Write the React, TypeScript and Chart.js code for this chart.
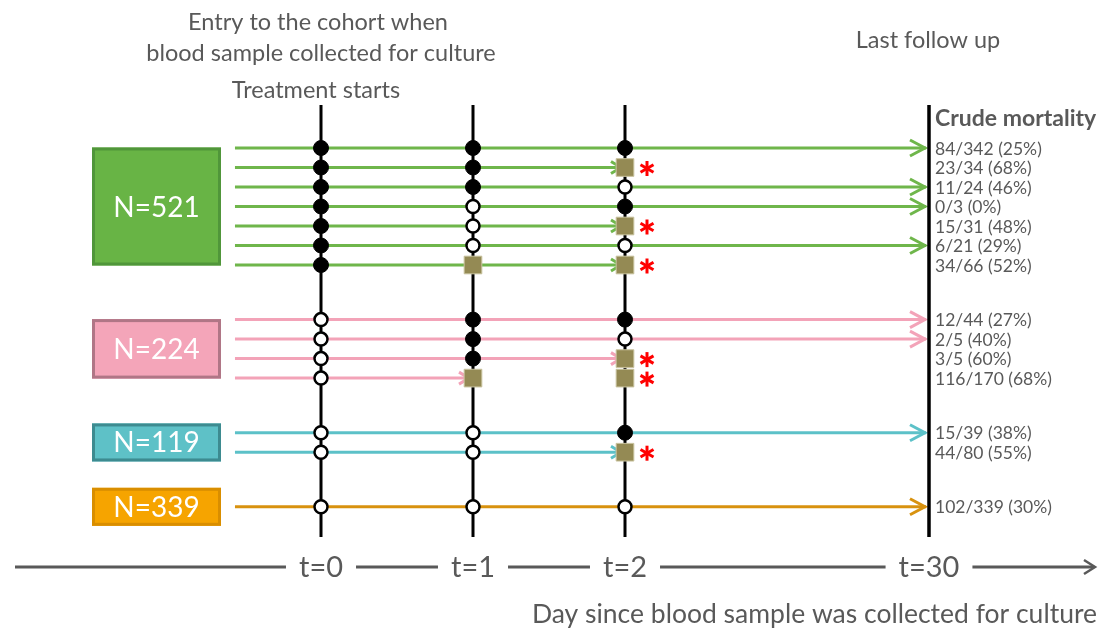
import React, { useEffect, useRef } from "react";
import { Chart, registerables } from "chart.js";

Chart.register(...registerables);

// ---- data ----
const timeLabels = ["t=0", "t=1", "t=2", "t=30"];
const timeSlots = [0, 1, 2, 4]; // layout slot of each time point (day 0, 1, 2, 30)
const groupLabels = ["N=521", "N=224", "N=119", "N=339"];
const rowGroup = [0, 0, 0, 0, 0, 0, 0, 1, 1, 1, 1, 2, 2, 3];
// B = filled circle, W = open circle, S = square
const statusT0 = ["B", "B", "B", "B", "B", "B", "B", "W", "W", "W", "W", "W", "W", "W"];
const statusT1 = ["B", "B", "B", "W", "W", "W", "S", "B", "B", "B", "S", "W", "W", "W"];
const statusT2 = ["B", "S", "W", "B", "S", "W", "S", "B", "W", "S", "S", "B", "S", "W"];
const lineEndTime = [3, 2, 3, 3, 2, 3, 2, 3, 3, 2, 1, 3, 2, 3];
const mortalityLabels = [
  "84/342 (25%)", "23/34 (68%)", "11/24 (46%)", "0/3 (0%)", "15/31 (48%)", "6/21 (29%)", "34/66 (52%)",
  "12/44 (27%)", "2/5 (40%)", "3/5 (60%)", "116/170 (68%)",
  "15/39 (38%)", "44/80 (55%)",
  "102/339 (30%)",
];

// ---- styles / layout ----
const lineColors = ["#6fb64b", "#f3a3b8", "#5cc1c8", "#d8920f"];
const boxFill = ["#68b445", "#f4a5b9", "#5ec1c7", "#f6a400"];
const boxBorder = ["#50963a", "#b07686", "#3d8b90", "#d98e00"];
const TEXT = "#595959";
const FONT = "Lato, 'Open Sans', sans-serif";
const GROUP_GAP = 1.8;
const rowY = rowGroup.map((g, i) => i + g * GROUP_GAP);
const LINE_START = -0.566;

function chevron(ctx: CanvasRenderingContext2D, tx: number, ty: number, len: number, half: number) {
  ctx.beginPath();
  ctx.moveTo(tx - len, ty - half);
  ctx.lineTo(tx, ty);
  ctx.lineTo(tx - len, ty + half);
  ctx.stroke();
}

const diagramPlugin = {
  id: "diagram",
  beforeDatasetsDraw(chart: any) {
    const { ctx } = chart;
    const xs = chart.scales.x;
    const ys = chart.scales.y;
    ctx.save();
    // group boxes
    groupLabels.forEach((label, g) => {
      const idx = rowGroup.map((gg, i) => (gg === g ? i : -1)).filter((i) => i >= 0);
      const y1 = ys.getPixelForValue(rowY[idx[0]]);
      const y2 = ys.getPixelForValue(rowY[idx[idx.length - 1]]);
      const mid = (y1 + y2) / 2;
      const h = Math.max(38, y2 - y1 + 1);
      const left = 92;
      const w = 129;
      ctx.fillStyle = boxFill[g];
      ctx.fillRect(left, mid - h / 2, w, h);
      ctx.strokeStyle = boxBorder[g];
      ctx.lineWidth = 3;
      ctx.strokeRect(left + 1.5, mid - h / 2 + 1.5, w - 3, h - 3);
      ctx.fillStyle = "#ffffff";
      ctx.font = `28px ${FONT}`;
      ctx.textAlign = "center";
      ctx.textBaseline = "middle";
      ctx.fillText(label, left + w / 2, mid + 1);
    });
    // arrow heads
    ctx.lineWidth = 3;
    ctx.lineJoin = "miter";
    rowY.forEach((yv, i) => {
      const ex = xs.getPixelForValue(timeSlots[lineEndTime[i]]);
      const py = ys.getPixelForValue(yv);
      ctx.strokeStyle = lineColors[rowGroup[i]];
      if (lineEndTime[i] === 3) chevron(ctx, ex - 4, py, 15, 8);
      else chevron(ctx, ex - 4, py, 10, 6);
    });
    ctx.restore();
  },
  afterDatasetsDraw(chart: any) {
    const { ctx } = chart;
    const xs = chart.scales.x;
    const ys = chart.scales.y;
    ctx.save();
    // asterisks
    ctx.strokeStyle = "#ff0000";
    ctx.lineWidth = 3;
    ctx.lineCap = "butt";
    statusT2.forEach((s, i) => {
      if (s !== "S") return;
      const cx = xs.getPixelForValue(timeSlots[2]) + 22;
      const cy = ys.getPixelForValue(rowY[i]) + 1;
      const r = 7.5;
      [90, 30, 150].forEach((a) => {
        const rad = (a * Math.PI) / 180;
        ctx.beginPath();
        ctx.moveTo(cx - r * Math.cos(rad), cy - r * Math.sin(rad));
        ctx.lineTo(cx + r * Math.cos(rad), cy + r * Math.sin(rad));
        ctx.stroke();
      });
    });
    // mortality labels
    ctx.fillStyle = TEXT;
    ctx.textAlign = "left";
    ctx.textBaseline = "middle";
    ctx.font = `17.5px ${FONT}`;
    const tx = xs.getPixelForValue(timeSlots[3]) + 6;
    mortalityLabels.forEach((lab, i) => {
      ctx.fillText(lab, tx, ys.getPixelForValue(rowY[i]) + 1);
    });
    ctx.font = `bold 23px ${FONT}`;
    ctx.fillText("Crude mortality", tx, 119);
    // top notes
    ctx.textAlign = "center";
    ctx.font = `23.5px ${FONT}`;
    const x0 = xs.getPixelForValue(timeSlots[0]);
    ctx.fillText("Entry to the cohort when", x0 - 3, 22);
    ctx.fillText("blood sample collected for culture", x0, 53);
    ctx.fillText("Treatment starts", x0 - 5, 90);
    ctx.fillText("Last follow up", xs.getPixelForValue(timeSlots[3]) - 1, 40);
    // bottom axis
    const ay = 567;
    ctx.strokeStyle = TEXT;
    ctx.lineWidth = 3;
    ctx.beginPath();
    ctx.moveTo(15, ay);
    ctx.lineTo(1093, ay);
    ctx.stroke();
    ctx.lineWidth = 2.5;
    chevron(ctx, 1095, ay, 11, 7);
    ctx.font = `29px ${FONT}`;
    timeLabels.forEach((lab, t) => {
      const px = xs.getPixelForValue(timeSlots[t]);
      const w = ctx.measureText(lab).width;
      ctx.fillStyle = "#ffffff";
      ctx.fillRect(px - w / 2 - 13, ay - 8, w + 26, 16);
      ctx.fillStyle = TEXT;
      ctx.fillText(lab, px, ay + 1);
    });
    ctx.textAlign = "right";
    ctx.font = `26.5px ${FONT}`;
    ctx.fillText("Day since blood sample was collected for culture", 1097, 614);
    ctx.restore();
  },
};

export default function App() {
  const ref = useRef<HTMLCanvasElement | null>(null);
  useEffect(() => {
    document.body.style.margin = "0";
    if (!ref.current) return;
    const statuses = [statusT0, statusT1, statusT2];
    const markerStyles: any[] = [
      { code: "B", pointStyle: "circle", pointRadius: 7.5, backgroundColor: "#000000", borderColor: "#000000", borderWidth: 1 },
      { code: "W", pointStyle: "circle", pointRadius: 6.5, backgroundColor: "#ffffff", borderColor: "#000000", borderWidth: 2.5 },
      { code: "S", pointStyle: "rect", pointRadius: 12.5, backgroundColor: "#948a54", borderColor: "#c9c39f", borderWidth: 1 },
    ];
    const datasets: any[] = [];
    markerStyles.forEach((m) => {
      const data: { x: number; y: number }[] = [];
      statuses.forEach((arr, t) =>
        arr.forEach((s, i) => {
          if (s === m.code) data.push({ x: timeSlots[t], y: rowY[i] });
        })
      );
      datasets.push({
        type: "scatter",
        data,
        pointStyle: m.pointStyle,
        pointRadius: m.pointRadius,
        pointBackgroundColor: m.backgroundColor,
        pointBorderColor: m.borderColor,
        pointBorderWidth: m.borderWidth,
        showLine: false,
        order: 0,
      });
    });
    rowY.forEach((yv, i) => {
      datasets.push({
        type: "scatter",
        data: [
          { x: LINE_START, y: yv },
          { x: timeSlots[lineEndTime[i]] - (lineEndTime[i] === 3 ? 0.02 : 0), y: yv },
        ],
        showLine: true,
        borderColor: lineColors[rowGroup[i]],
        borderWidth: 3,
        pointRadius: 0,
        order: 1,
      });
    });
    timeSlots.forEach((s, t) => {
      datasets.push({
        type: "scatter",
        data: [
          { x: s, y: -2.2 },
          { x: s, y: 19.95 },
        ],
        showLine: true,
        borderColor: "#000000",
        borderWidth: t === 3 ? 3.5 : 3,
        pointRadius: 0,
        order: 2,
      });
    });
    const chart = new Chart(ref.current, {
      type: "scatter",
      data: { datasets },
      options: {
        animation: false,
        responsive: true,
        maintainAspectRatio: false,
        events: [],
        layout: { padding: 0, autoPadding: false },
        plugins: { legend: { display: false }, tooltip: { enabled: false } },
        scales: {
          x: { type: "linear", display: false, min: -321 / 152, max: (1103 - 321) / 152 },
          y: { type: "linear", display: false, reverse: true, min: -148 / 19.5, max: (630 - 148) / 19.5 },
        },
      },
      plugins: [diagramPlugin],
    } as any);
    return () => chart.destroy();
  }, []);
  return (
    <div style={{ width: 1103, height: 630, position: "relative" }}>
      <canvas ref={ref} />
    </div>
  );
}
